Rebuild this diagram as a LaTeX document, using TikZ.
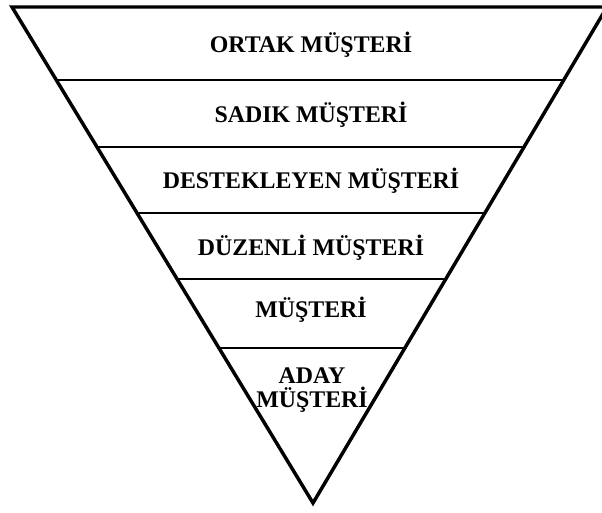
\documentclass[tikz,border=0pt]{standalone}
\usepackage{fontspec}
\setmainfont{Liberation Serif}
\usetikzlibrary{calc}
\tikzset{
  bandtext/.style={font=\bfseries\fontsize{17.9}{18}\selectfont, inner sep=0pt, anchor=base, align=center},
  edgeline/.style={line width=2.6pt, line join=miter},
  bandline/.style={line width=1.6pt}
}
\begin{document}
\begin{tikzpicture}[x=0.75pt, y=-0.75pt]
\useasboundingbox (0,0) rectangle (602,512);
% funnel outline
\coordinate (tl) at (12,7);
\coordinate (tr) at (607,7);
\coordinate (ap) at (313,503);
\draw[edgeline] (tl) -- (tr) -- (ap) -- cycle;
% band separators
\foreach \yy/\nm in {80/a, 147/b, 213/c, 279/d, 348/e} {
  \pgfmathsetmacro{\tt}{(\yy-7)/496}
  \coordinate (l\nm) at ($(tl)!\tt!(ap)$);
  \coordinate (r\nm) at ($(tr)!\tt!(ap)$);
  \draw[bandline] (l\nm) -- (r\nm);
}
% band labels
\node[bandtext] (ortak) at (311,52) {ORTAK MÜŞTERİ};
\node[bandtext] (sadik) at (311,122) {SADIK MÜŞTERİ};
\node[bandtext] (destek) at (311,188) {DESTEKLEYEN MÜŞTERİ};
\node[bandtext] (duzenli) at (311,255) {DÜZENLİ MÜŞTERİ};
\node[bandtext] (musteri) at (311,317) {MÜŞTERİ};
\node[bandtext] (aday) at (312,407) {ADAY\\MÜŞTERİ};
\end{tikzpicture}
\end{document}
